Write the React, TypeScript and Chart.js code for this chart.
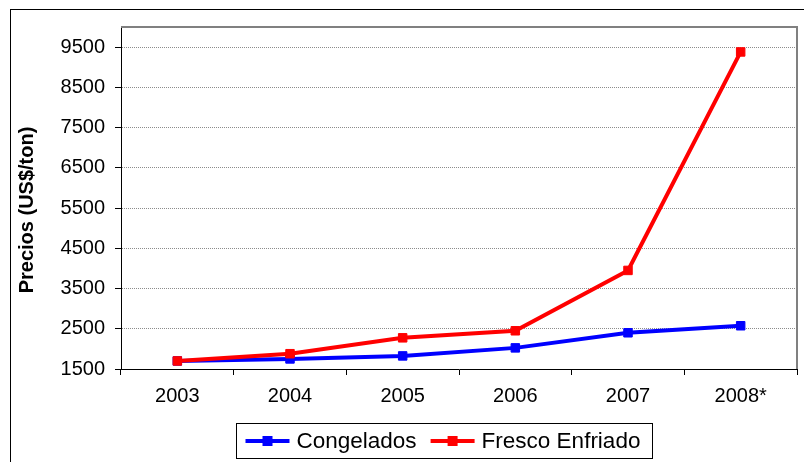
import React, { useEffect, useRef } from "react";
import { Chart, registerables } from "chart.js";

Chart.register(...registerables);

const years = ["2003", "2004", "2005", "2006", "2007", "2008*"];
const congelados = [1700, 1750, 1825, 2025, 2400, 2575];
const frescoEnfriado = [1700, 1880, 2275, 2450, 3950, 9380];
const yTickValues = [1500, 2500, 3500, 4500, 5500, 6500, 7500, 8500, 9500];
const seriesNames = ["Congelados", "Fresco Enfriado"];
const seriesColors = ["#0000FF", "#FF0000"];
const yTitle = "Precios (US$/ton)";

const FONT = "Arial, 'Liberation Sans', sans-serif";

const decorPlugin = {
  id: "decor",
  afterDraw(chart: any) {
    const ctx = chart.ctx as CanvasRenderingContext2D;
    const a = chart.chartArea;
    ctx.save();
    // outer frame
    ctx.strokeStyle = "#000";
    ctx.lineWidth = 1;
    ctx.strokeRect(10.5, 9.5, 900, 600);
    // plot border top & right
    ctx.strokeStyle = "#808080";
    ctx.lineWidth = 2;
    ctx.beginPath();
    ctx.moveTo(a.left, a.top);
    ctx.lineTo(a.right, a.top);
    ctx.lineTo(a.right, a.bottom);
    ctx.stroke();
    // y title
    ctx.save();
    ctx.translate(27, 210);
    ctx.rotate(-Math.PI / 2);
    ctx.font = "bold 20px " + FONT;
    ctx.fillStyle = "#000";
    ctx.textAlign = "center";
    ctx.textBaseline = "middle";
    ctx.fillText(yTitle, 0, 0);
    ctx.restore();
    // legend
    const boxLeft = 236.5;
    const boxTop = 423.5;
    const boxH = 35;
    const cy = 441;
    ctx.font = "22.5px " + FONT;
    let x = boxLeft + 9;
    const datasets = chart.data.datasets;
    datasets.forEach((ds: any, i: number) => {
      ctx.strokeStyle = ds.borderColor;
      ctx.lineWidth = 4;
      ctx.beginPath();
      ctx.moveTo(x, cy);
      ctx.lineTo(x + 44, cy);
      ctx.stroke();
      ctx.fillStyle = ds.borderColor;
      ctx.fillRect(x + 22 - 5, cy - 5, 10, 10);
      ctx.fillStyle = "#000";
      ctx.textAlign = "left";
      ctx.textBaseline = "middle";
      ctx.fillText(ds.label, x + 51, cy + 1);
      const w = ctx.measureText(ds.label).width;
      x = x + 51 + w + (i < datasets.length - 1 ? 14 : 12);
    });
    ctx.strokeStyle = "#000";
    ctx.lineWidth = 1;
    ctx.strokeRect(boxLeft, boxTop, Math.round(x - boxLeft), boxH);
    ctx.restore();
  },
};

export default function App() {
  const ref = useRef<HTMLCanvasElement | null>(null);
  useEffect(() => {
    if (!ref.current) return;
    const chart = new Chart(ref.current, {
      type: "line",
      data: {
        labels: years,
        datasets: [
          {
            label: seriesNames[0],
            data: congelados,
            borderColor: seriesColors[0],
            backgroundColor: seriesColors[0],
            borderWidth: 4,
            pointStyle: "rect",
            pointRadius: 6,
            pointBorderWidth: 1,
            order: 1,
          },
          {
            label: seriesNames[1],
            data: frescoEnfriado,
            borderColor: seriesColors[1],
            backgroundColor: seriesColors[1],
            borderWidth: 4,
            pointStyle: "rect",
            pointRadius: 6,
            pointBorderWidth: 1,
            order: 0,
          },
        ],
      },
      options: {
        animation: false,
        responsive: false,
        maintainAspectRatio: false,
        layout: { padding: { left: 45, top: 27, right: 3, bottom: 53 } },
        plugins: { legend: { display: false }, tooltip: { enabled: false } },
        elements: { line: { tension: 0 } },
        scales: {
          x: {
            offset: true,
            grid: {
              offset: true,
              drawOnChartArea: false,
              drawTicks: true,
              tickLength: 6,
              tickColor: "#000",
              tickWidth: 1,
            },
            border: { display: true, color: "#000", width: 1 },
            ticks: {
              color: "#000",
              padding: 9,
              font: { family: FONT, size: 20 },
              maxRotation: 0,
            },
            afterFit: (s: any) => {
              s.height = 40;
            },
          },
          y: {
            min: 1500,
            max: 10000,
            afterBuildTicks: (s: any) => {
              s.ticks = yTickValues.map((v) => ({ value: v }));
            },
            grid: {
              color: "#8c8c8c",
              lineWidth: 1,
              drawTicks: true,
              tickLength: 6,
              tickColor: "#000",
              tickBorderDash: [],
            },
            border: { display: true, color: "#000", width: 1, dash: [1, 1] },
            ticks: {
              color: "#000",
              padding: 10,
              font: { family: FONT, size: 20 },
              callback: (v: any) => String(v),
            },
            afterFit: (s: any) => {
              s.width = 76;
            },
          },
        },
      },
      plugins: [decorPlugin],
    });
    return () => chart.destroy();
  }, []);
  return (
    <div style={{ position: "absolute", left: 0, top: 0, width: 804, height: 462 }}>
      <canvas ref={ref} width={804} height={462} style={{ width: 804, height: 462 }} />
    </div>
  );
}
